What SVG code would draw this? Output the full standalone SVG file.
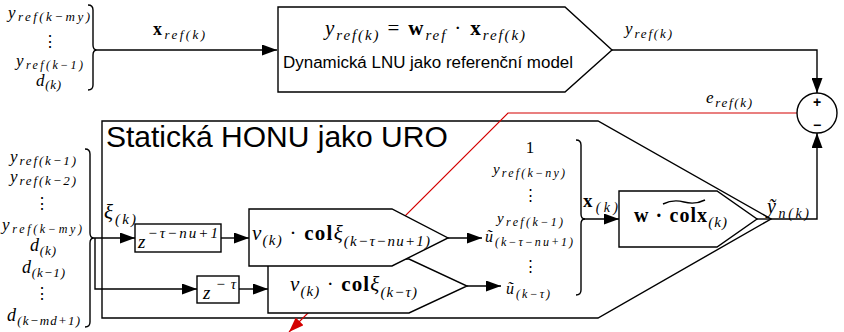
<svg xmlns="http://www.w3.org/2000/svg" width="844" height="332" viewBox="0 0 844 332">
<style>
.ln{fill:none;stroke:#000;stroke-width:1.4}
.blk{fill:#fff;stroke:#000;stroke-width:1.4}
.red{fill:none;stroke:#d40000;stroke-width:1.2}
.m{font-family:"Liberation Serif","DejaVu Serif",serif;font-style:italic;fill:#000}
.u{font-style:normal}
.b{font-style:normal;font-weight:bold}
.sans{font-family:"Liberation Sans",Arial,sans-serif;fill:#000}
</style>
<defs>
<marker id="ah" markerUnits="userSpaceOnUse" markerWidth="15" markerHeight="11" refX="15" refY="5.5" orient="auto"><path d="M0,0 L15,5.5 L0,11 z" fill="#000"/></marker>
<marker id="ahr" markerUnits="userSpaceOnUse" markerWidth="15" markerHeight="11" refX="15" refY="5.5" orient="auto"><path d="M0,0 L15,5.5 L0,11 z" fill="#d40000"/></marker>
</defs>
<rect width="844" height="332" fill="#fff"/>

<!-- big HONU container -->
<g id="honu">
<path class="ln" d="M102,121 L598,121 L771,219 L598,318 L102,318 Z"/>
<text class="sans" x="106" y="147" font-size="30">Statická HONU jako URO</text>
</g>

<!-- connectors -->
<g id="connectors">
<path class="red" d="M797,113 L508,113 L289,332" marker-end="url(#ahr)"/>
<path class="ln" d="M97,50 L277,50" marker-end="url(#ah)"/>
<path class="ln" d="M612,50 L817,50 L817,93" marker-end="url(#ah)"/>
<path class="ln" d="M771,219 L817,219 L817,133" marker-end="url(#ah)"/>
<path class="ln" d="M94,238 L135,238" marker-end="url(#ah)"/>
<path class="ln" d="M95,238 L95,289 L197,289" marker-end="url(#ah)"/>
<path class="ln" d="M221,238 L249,238" marker-end="url(#ah)"/>
<path class="ln" d="M239,289 L268,289" marker-end="url(#ah)"/>
<path class="ln" d="M448,238 L482,238" marker-end="url(#ah)"/>
<path class="ln" d="M467,286 L501,286" marker-end="url(#ah)"/>
<path class="ln" d="M584,219 L619,219" marker-end="url(#ah)"/>
<path class="ln" d="M757,219 L771,219"/>
</g>

<!-- top-left input vector -->
<g id="ref-inputs">
<path class="ln" d="M88,5 Q93,5 93,10 L93,45 Q93,50 97,50 Q93,50 93,55 L93,85 Q93,90 88,90"/>
<text class="m" x="8" y="18" font-size="17" textLength="82" lengthAdjust="spacing">y<tspan font-size="13" dy="3">ref(k−my)</tspan></text>
<text class="m u" x="50" y="47" font-size="16" text-anchor="middle">⋮</text>
<text class="m" x="16" y="66" font-size="17" textLength="67" lengthAdjust="spacing">y<tspan font-size="12" dy="3">ref(k−1)</tspan></text>
<text class="m" x="36" y="86" font-size="17" textLength="25" lengthAdjust="spacing">d<tspan font-size="13" dy="3">(k)</tspan></text>
<text class="m" x="153" y="35" font-size="18" textLength="52" lengthAdjust="spacing"><tspan class="b">x</tspan><tspan font-size="13" dy="4">ref(k)</tspan></text>
</g>

<!-- LNU reference model -->
<g id="lnu">
<path class="blk" d="M278,7 L565,7 L612,50 L565,92 L278,92 Z"/>
<text class="m" x="325" y="35" font-size="21" textLength="200" lengthAdjust="spacing">y<tspan font-size="15" dy="5">ref(k)</tspan><tspan class="u" dy="-5"> = </tspan><tspan class="b">w</tspan><tspan font-size="15" dy="5">ref</tspan><tspan class="u" dy="-5"> · </tspan><tspan class="b">x</tspan><tspan font-size="15" dy="5">ref(k)</tspan></text>
<text class="sans" x="283" y="68" font-size="16" textLength="290" lengthAdjust="spacingAndGlyphs">Dynamická LNU jako referenční model</text>
</g>

<g id="yref-label">
<text class="m" x="625" y="34" font-size="17" textLength="47" lengthAdjust="spacing">y<tspan font-size="13" dy="4">ref(k)</tspan></text>
<text class="m" x="706" y="103" font-size="17" textLength="46" lengthAdjust="spacing">e<tspan font-size="13" dy="4">ref(k)</tspan></text>
</g>

<!-- summation -->
<g id="sum">
<circle cx="817" cy="113" r="20" fill="#fff" stroke="#000" stroke-width="1.4"/>
<text class="sans" x="817" y="107" font-size="14" text-anchor="middle" font-weight="bold">+</text>
<text class="sans" x="817" y="130" font-size="14" text-anchor="middle" font-weight="bold">−</text>
</g>

<!-- lower-left input vector -->
<g id="honu-inputs">
<path class="ln" d="M85,149 Q90,149 90,154 L90,233 Q90,238 94,238 Q90,238 90,243 L90,322 Q90,327 85,327"/>
<text class="m" x="10" y="162" font-size="17" textLength="66" lengthAdjust="spacing">y<tspan font-size="13" dy="3">ref(k−1)</tspan></text>
<text class="m" x="10" y="182" font-size="17" textLength="66" lengthAdjust="spacing">y<tspan font-size="13" dy="3">ref(k−2)</tspan></text>
<text class="m u" x="42" y="209" font-size="16" text-anchor="middle">⋮</text>
<text class="m" x="2" y="230" font-size="17" textLength="80" lengthAdjust="spacing">y<tspan font-size="12" dy="3">ref(k−my)</tspan></text>
<text class="m" x="30" y="251" font-size="18" textLength="26" lengthAdjust="spacing">d<tspan font-size="13" dy="4">(k)</tspan></text>
<text class="m" x="22" y="273" font-size="18" textLength="43" lengthAdjust="spacing">d<tspan font-size="13" dy="4">(k−1)</tspan></text>
<text class="m u" x="42" y="299" font-size="16" text-anchor="middle">⋮</text>
<text class="m" x="7" y="321" font-size="18" textLength="73" lengthAdjust="spacing">d<tspan font-size="13" dy="4">(k−md+1)</tspan></text>
<text class="m" x="104" y="219" font-size="21" textLength="32" lengthAdjust="spacing">ξ<tspan font-size="15" dy="5">(k)</tspan></text>
</g>

<!-- delay blocks -->
<g id="delay1">
<rect class="blk" x="135" y="224" width="86" height="28"/>
<text class="m" x="138" y="248" font-size="19" textLength="80" lengthAdjust="spacing">z<tspan font-size="15" dy="-10">−τ−nu+1</tspan></text>
</g>
<g id="delay2">
<rect class="blk" x="197" y="276" width="42" height="27"/>
<text class="m" x="203" y="299" font-size="19" textLength="33" lengthAdjust="spacing">z<tspan font-size="15" dy="-10">−τ</tspan></text>
</g>

<!-- nonlinear blocks -->
<g id="nu2">
<path class="blk" d="M268,259 L409,259 L467,286 L409,313 L268,313 Z"/>
<text class="m" x="290" y="291" font-size="21" textLength="127" lengthAdjust="spacing">ν<tspan font-size="15" dy="5">(k)</tspan><tspan class="u" dy="-5"> · </tspan><tspan class="b">col</tspan>ξ<tspan font-size="15" dy="6">(k−τ)</tspan></text>
</g>
<g id="nu1">
<path class="blk" d="M249,209 L392,209 L448,238 L392,266 L249,266 Z"/>
<text class="m" x="252" y="240" font-size="21" textLength="178" lengthAdjust="spacing">ν<tspan font-size="15" dy="5">(k)</tspan><tspan class="u" dy="-5"> · </tspan><tspan class="b">col</tspan>ξ<tspan font-size="15" dy="6">(k−τ−nu+1)</tspan></text>
</g>

<!-- regressor vector x(k) -->
<g id="x-vector">
<path class="ln" d="M576,140 Q581,140 581,145 L581,214 Q581,219 585,219 Q581,219 581,224 L581,290 Q581,295 576,295"/>
<text class="m u" x="530" y="153" font-size="17" text-anchor="middle">1</text>
<text class="m" x="493" y="174" font-size="15" textLength="72" lengthAdjust="spacing">y<tspan font-size="12" dy="3">ref(k−ny)</tspan></text>
<text class="m u" x="530" y="200" font-size="15" text-anchor="middle">⋮</text>
<text class="m" x="497" y="223" font-size="15" textLength="66" lengthAdjust="spacing">y<tspan font-size="12" dy="3">ref(k−1)</tspan></text>
<text class="m" x="485" y="242" font-size="16" textLength="88" lengthAdjust="spacing">ũ<tspan font-size="12" dy="4">(k−τ−nu+1)</tspan></text>
<text class="m u" x="530" y="271" font-size="15" text-anchor="middle">⋮</text>
<text class="m" x="506" y="294" font-size="16" textLength="44" lengthAdjust="spacing">ũ<tspan font-size="12" dy="4">(k−τ)</tspan></text>
<text class="m" x="583" y="207" font-size="19" textLength="35" lengthAdjust="spacing"><tspan class="b">x</tspan><tspan font-size="14" dy="5">(k)</tspan></text>
</g>

<!-- output neuron -->
<g id="w-block">
<path class="blk" d="M619,191 L717,191 L757,219 L717,247 L619,247 Z"/>
<text class="m" x="634" y="222" font-size="20" textLength="93" lengthAdjust="spacing"><tspan class="b">w · colx</tspan><tspan font-size="15" dy="5">(k)</tspan></text>
<path class="ln" d="M663,204 Q673,199 684,202 Q695,205 705,200" stroke-width="1"/>
</g>

<g id="yn-label">
<text class="m" x="767" y="213" font-size="20" textLength="42" lengthAdjust="spacing">ỹ<tspan font-size="14" dy="5">n(k)</tspan></text>
</g>
</svg>
